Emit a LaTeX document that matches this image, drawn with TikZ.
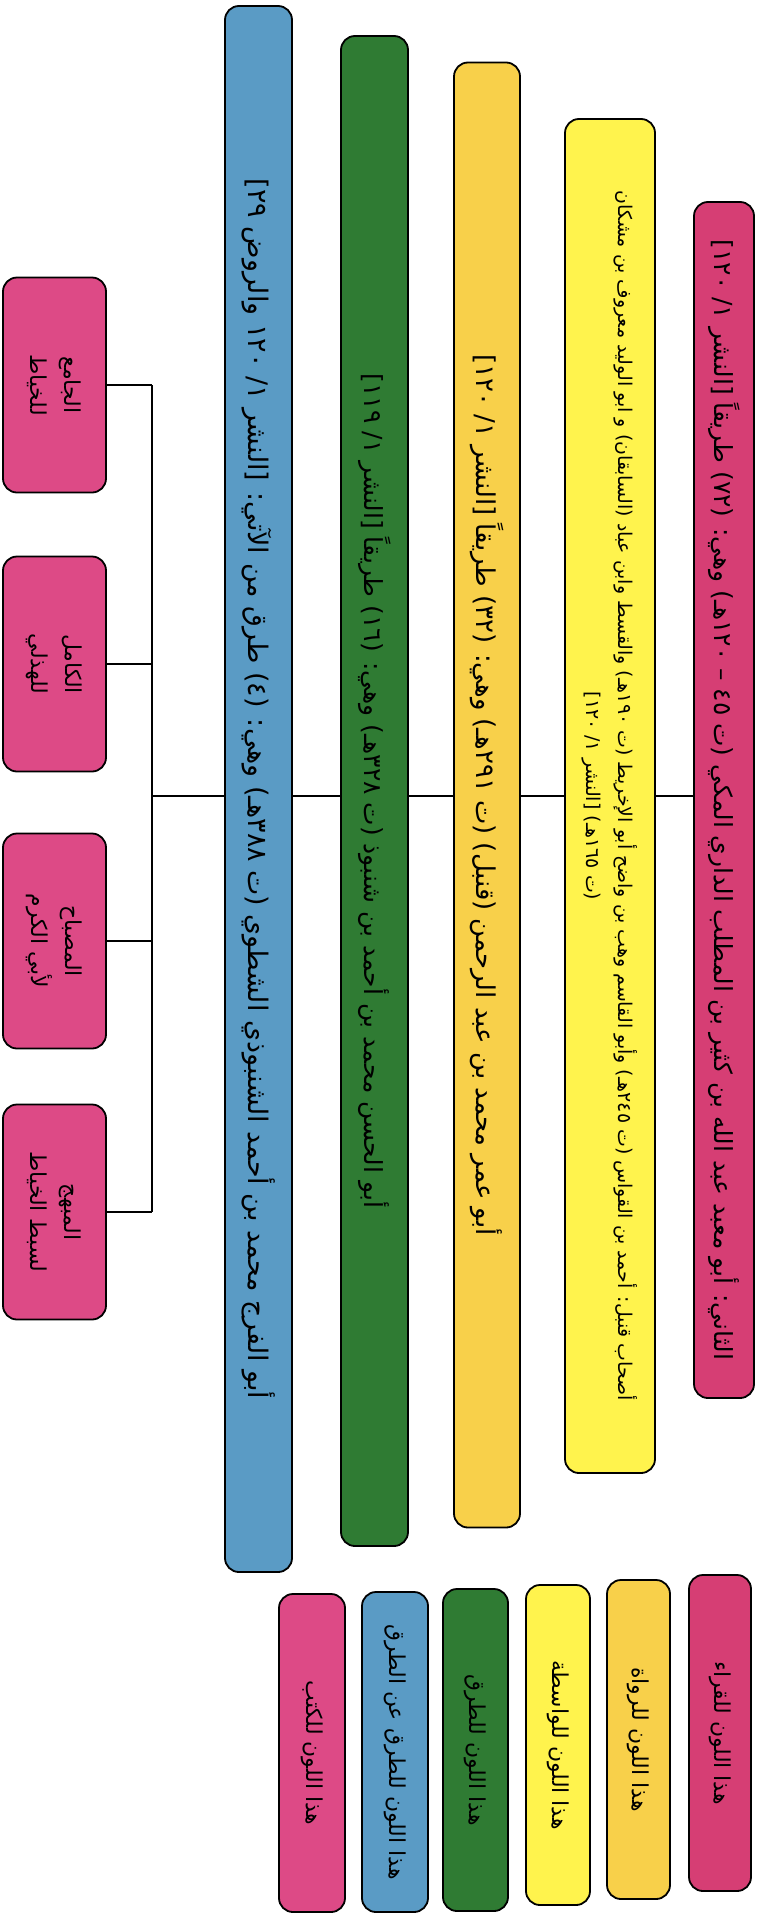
\documentclass[tikz,border=0pt]{standalone}
\usepackage{fontspec}
\newfontfamily\arabicfont[Script=Arabic]{DejaVu Sans}
\TeXXeTstate=1
\definecolor{cqari}{HTML}{D63E74}
\definecolor{cbook}{HTML}{DD4A86}
\definecolor{cly}{HTML}{FFF34D}
\definecolor{cgold}{HTML}{F8D04A}
\definecolor{cgreen}{HTML}{2F7B33}
\definecolor{cblue}{HTML}{5A9BC5}
\begin{document}
\begin{tikzpicture}[x=1bp,y=-1bp,
  every node/.style={inner sep=0pt, outer sep=0pt},
  box/.style={draw=black, line width=1.8bp, rounded corners=14bp, rotate=-90, align=center, text=black},
  bartext/.style={font=\arabicfont\fontsize{#1}{30}\selectfont},
  lytext/.style={font=\arabicfont\fontsize{19}{32}\selectfont},
  booktext/.style={font=\arabicfont\fontsize{22}{34}\selectfont},
  legtext/.style={font=\arabicfont\fontsize{22}{26}\selectfont},
  link/.style={draw=black, line width=1.5bp}]
\useasboundingbox (0,0) rectangle (758,1916);
\fill[white] (0,0) rectangle (758,1916);

\coordinate (hub) at (152,796);

% main chain
\node[box, bartext=25, fill=cqari, minimum width=1196bp, minimum height=60bp] (qari) at (724,800)
  {\beginR الثاني: أبو معبد عبد الله بن كثير بن المطلب الداري المكي (ت ٤٥ – ١٢٠هـ) وهي: (٧٢) طريقاً [النشر ١/ ١٢٠]\endR};
\node[box, lytext, fill=cly, minimum width=1354bp, minimum height=90bp] (wasita) at (610,796)
  {\beginR أصحاب قنبل: أحمد بن القواس (ت ٢٤٥هـ) وأبو القاسم وهب بن واضح أبو الإخريط (ت ١٩٠هـ) والقسط وابن عباد (السابقان) و ابو الوليد معروف بن مشكان\endR\\
   \beginR (ت ١٦٥هـ) [النشر ١/ ١٢٠]\endR};
\node[box, bartext=26, fill=cgold, minimum width=1465bp, minimum height=66bp] (rawi) at (487,795)
  {\beginR أبو عمر محمد بن عبد الرحمن (قنبل) (ت ٢٩١هـ) وهي: (٣٢) طريقاً [النشر ١/ ١٢٠]\endR};
\node[box, bartext=25, fill=cgreen, minimum width=1510bp, minimum height=67bp] (tariq) at (374.5,791)
  {\beginR أبو الحسن محمد بن أحمد بن شنبوذ (ت ٣٢٨هـ) وهي: (١٦) طريقاً [النشر ١/ ١١٩]\endR};
\node[box, bartext=27, fill=cblue, minimum width=1566bp, minimum height=67bp] (tariq2) at (258.5,789)
  {\beginR أبو الفرج محمد بن أحمد الشنبوذي الشطوي (ت ٣٨٨هـ) وهي: (٤) طرق من الآتي: [النشر ١/ ١٢٠ والروض ٢٩]\endR};

% books
\node[box, booktext, fill=cbook, minimum width=215bp, minimum height=103bp] (book1) at (54.5,385)
  {\beginR الجامع\endR\\ \beginR للخياط\endR};
\node[box, booktext, fill=cbook, minimum width=215bp, minimum height=103bp] (book2) at (54.5,664)
  {\beginR الكامل\endR\\ \beginR للهذلي\endR};
\node[box, booktext, fill=cbook, minimum width=215bp, minimum height=103bp] (book3) at (54.5,941)
  {\beginR المصباح\endR\\ \beginR لأبي الكرم\endR};
\node[box, booktext, fill=cbook, minimum width=215bp, minimum height=103bp] (book4) at (54.5,1212)
  {\beginR المبهج\endR\\ \beginR لسبط الخياط\endR};

% connectors
\coordinate (v1) at (152,385);
\coordinate (v2) at (152,664);
\coordinate (v3) at (152,941);
\coordinate (v4) at (152,1212);
\draw[link] (qari.south |- hub) -- (wasita.north |- hub);
\draw[link] (wasita.south |- hub) -- (rawi.north |- hub);
\draw[link] (rawi.south |- hub) -- (tariq.north |- hub);
\draw[link] (tariq.south |- hub) -- (tariq2.north |- hub);
\draw[link] (tariq2.south |- hub) -- (hub);
\draw[link] (v1) -- (v4);
\draw[link] (book1) -- (v1);
\draw[link] (book2) -- (v2);
\draw[link] (book3) -- (v3);
\draw[link] (book4) -- (v4);

% legend
\node[box, legtext, fill=cqari, minimum width=316bp, minimum height=62bp] (leg1) at (720,1733) {\beginR هذا اللون للقراء\endR};
\node[box, legtext, fill=cgold, minimum width=319bp, minimum height=63bp] (leg2) at (638.5,1739.5) {\beginR هذا اللون للرواة\endR};
\node[box, legtext, fill=cly, minimum width=320bp, minimum height=64bp] (leg3) at (558,1745) {\beginR هذا اللون للواسطة\endR};
\node[box, legtext, fill=cgreen, minimum width=322bp, minimum height=65bp] (leg4) at (475.5,1750) {\beginR هذا اللون للطرق\endR};
\node[box, legtext, fill=cblue, minimum width=320bp, minimum height=66bp] (leg5) at (395,1752) {\beginR هذا اللون للطرق عن الطرق\endR};
\node[box, legtext, fill=cbook, minimum width=318bp, minimum height=66bp] (leg6) at (312,1753) {\beginR هذا اللون للكتب\endR};
\end{tikzpicture}
\end{document}
